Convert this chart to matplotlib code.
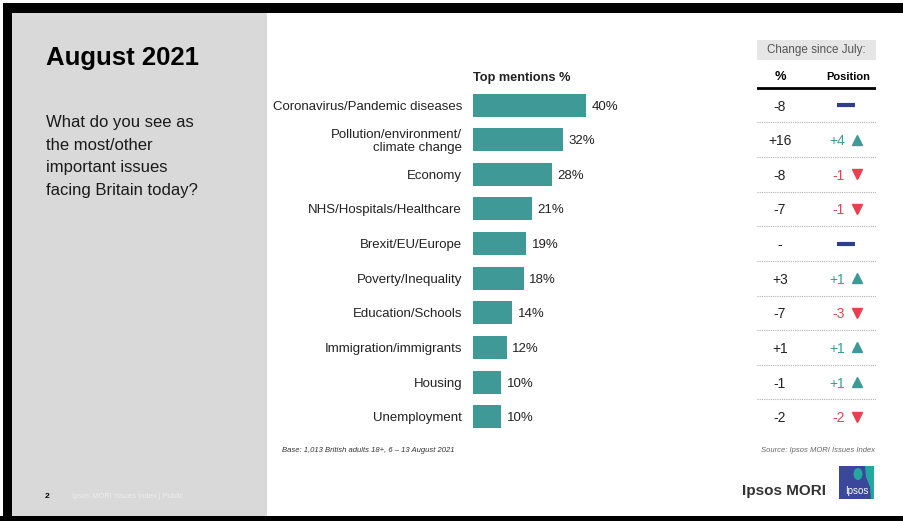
import matplotlib.pyplot as plt
from matplotlib.patches import Rectangle, Ellipse, Polygon

plt.rcParams['font.family'] = ['Liberation Sans', 'DejaVu Sans']

issues = ['Coronavirus/Pandemic diseases', 'Pollution/environment/\nclimate change', 'Economy',
          'NHS/Hospitals/Healthcare', 'Brexit/EU/Europe', 'Poverty/Inequality', 'Education/Schools',
          'Immigration/immigrants', 'Housing', 'Unemployment']
mentions = [40, 32, 28, 21, 19, 18, 14, 12, 10, 10]
pct_change = ['-8', '+16', '-8', '-7', '-', '+3', '-7', '+1', '-1', '-2']
pos_change = [0, 4, -1, -1, 0, 1, -3, 1, 1, -2]

TEAL = '#3e9997'
UP = '#3e9a97'
DOWN = '#e8404f'
STEADY = '#2f3f8c'

W, H = 904, 521
fig = plt.figure(figsize=(W / 100, H / 100), dpi=100)


def fx(px):
    return px / W


def fy(py):
    return 1 - py / H


def box(x0, y0, x1, y1):
    # pixel box -> [left, bottom, width, height] in figure fractions
    return [fx(x0), fy(y1), fx(x1) - fx(x0), fy(y0) - fy(y1)]


# slide frame and left panel
bg = fig.add_axes([0, 0, 1, 1])
bg.set_xlim(0, W)
bg.set_ylim(H, 0)
bg.axis('off')
bg.add_patch(Rectangle((3, 3), W - 3, 10, color='black', lw=0))
bg.add_patch(Rectangle((3, 3), 9, H - 3, color='black', lw=0))
bg.add_patch(Rectangle((0, 516), W, 5, color='black', lw=0))
bg.add_patch(Rectangle((12, 13), 255, 503, color='#d9d9d9', lw=0))

bg.text(46, 65, 'August 2021', fontsize=18.5, fontweight='bold', color='black', va='baseline')
question = ['What do you see as', 'the most/other', 'important issues', 'facing Britain today?']
for k, line in enumerate(question):
    bg.text(46, 127 + k * 22.5, line, fontsize=12, color='#1a1a1a', va='baseline')

bg.text(45, 497, '2', fontsize=6, fontweight='bold', color='black', va='center')
bg.text(72, 497, 'Ipsos MORI Issues Index | Public', fontsize=5.4, color='#eeeeee', va='center')

bg.text(282, 451, 'Base: 1,013 British adults 18+, 6 \u2013 13 August 2021', fontsize=5.5,
        style='italic', color='#333333', va='center')
bg.text(875, 451, 'Source: Ipsos MORI Issues Index', fontsize=5.5, style='italic',
        color='#666666', va='center', ha='right')

# logo
bg.text(742, 491, 'Ipsos MORI', fontsize=11, fontweight='bold', color='#333333', va='center')
bg.add_patch(Rectangle((839, 466), 35, 33, color='#3b479b', lw=0))
bg.add_patch(Polygon([(865, 466), (874, 466), (874, 499), (871, 499), (870, 487), (866, 477)],
                     closed=True, color='#25a69f', lw=0))
bg.add_patch(Ellipse((858, 474), 9, 12, color='#25a69f', lw=0))
bg.text(856.5, 491, 'Ipsos', fontsize=7, color='white', ha='center', va='center')

# bar chart
ax = fig.add_axes(box(472.7, 87.7, 472.7 + 50 * 2.83, 434))
rows = list(range(len(issues)))
ax.barh(rows, mentions, height=0.665, color=TEAL)
ax.set_xlim(0, 50)
ax.set_ylim(len(issues) - 0.5, -0.5)
ax.set_yticks(rows)
ax.set_yticklabels(issues, fontsize=9.5, color='#222222', linespacing=1.1)
ax.tick_params(axis='y', length=0, pad=7.7)
ax.set_xticks([])
for s in ax.spines.values():
    s.set_visible(False)
ax.patch.set_alpha(0)
for i, v in enumerate(mentions):
    ax.text(v + 2.0, i, f'{v}%', fontsize=9.5, color='#222222', va='center_baseline')
ax.text(0, -0.78, 'Top mentions %', fontsize=9.2, fontweight='bold', color='#222222', va='center')

# change table
tb = fig.add_axes(box(757, 34.1, 876, 434))
tb.set_xlim(0, 1)
tb.set_ylim(len(issues) - 0.5, -2.05)
tb.axis('off')
tb.add_patch(Rectangle((0, -1.89), 1, 0.58, color='#e6e6e6', lw=0))
tb.text(0.5, -1.6, 'Change since July:', fontsize=8.4, color='#555555', ha='center', va='center')
tb.text(0.193, -0.8, '%', fontsize=9.3, fontweight='bold', color='black', ha='center', va='center')
tb.text(0.765, -0.8, 'Position', fontsize=8, fontweight='bold', color='black', ha='center', va='center')
tb.plot([0, 1], [-0.5, -0.5], color='black', lw=2)

for i in rows:
    tb.text(0.193, i, pct_change[i], fontsize=10, color='#222222', ha='center', va='center_baseline')
    p = pos_change[i]
    if p == 0:
        tb.plot([0.675, 0.82], [i, i], color=STEADY, lw=3, solid_capstyle='butt')
    else:
        col = UP if p > 0 else DOWN
        tb.text(0.74, i, f'{p:+d}', fontsize=10, color=col, ha='right', va='center_baseline')
        tb.plot(0.84, i, marker='^' if p > 0 else 'v', color=col, markersize=7.5, ls='none')
    if i < len(issues) - 1:
        tb.plot([0, 1], [i + 0.5, i + 0.5], color='#b0b0b0', lw=0.8, ls=(0, (1, 1)))

fig.savefig('out.png', dpi=100)
